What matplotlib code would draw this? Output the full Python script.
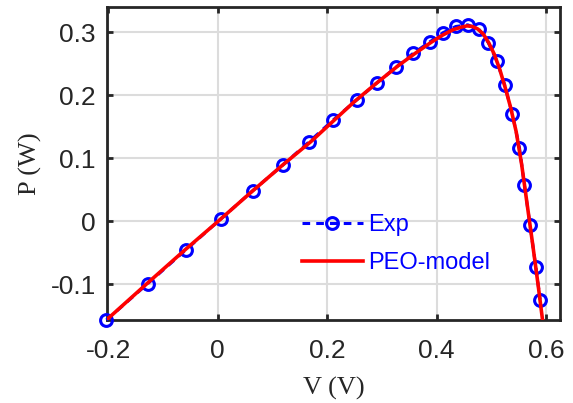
import matplotlib.pyplot as plt

# measured P-V points
v_exp = [-0.203, -0.128, -0.0585, 0.0055, 0.064, 0.119, 0.167, 0.211, 0.254,
         0.2915, 0.3257, 0.3573, 0.388, 0.412, 0.4347, 0.4566, 0.477, 0.494,
         0.5096, 0.524, 0.538, 0.551, 0.560, 0.5704, 0.5808, 0.5887]
p_exp = [-0.157, -0.0996, -0.0461, 0.0032, 0.0482, 0.089, 0.126, 0.1606, 0.1924,
         0.2199, 0.2443, 0.2666, 0.285, 0.2994, 0.309, 0.3116, 0.3047, 0.2835,
         0.2544, 0.2162, 0.170, 0.1166, 0.0572, -0.0064, -0.0726, -0.1245]

# PEO fitted curve
v_model = [-0.203, -0.13, -0.06, 0.0, 0.06, 0.12, 0.17, 0.21, 0.25, 0.29, 0.33,
           0.36, 0.39, 0.41, 0.43, 0.445, 0.455, 0.465, 0.475, 0.485, 0.495,
           0.505, 0.515, 0.525, 0.535, 0.545, 0.555, 0.565, 0.575, 0.585, 0.593]
p_model = [-0.157, -0.100, -0.046, -0.001, 0.045, 0.090, 0.126, 0.158, 0.190,
           0.219, 0.247, 0.266, 0.284, 0.295, 0.304, 0.308, 0.310, 0.309, 0.305,
           0.297, 0.283, 0.265, 0.241, 0.212, 0.180, 0.142, 0.090, 0.027,
           -0.036, -0.101, -0.156]

x_ticks = [-0.2, 0, 0.2, 0.4, 0.6]
y_ticks = [-0.1, 0, 0.1, 0.2, 0.3]
x_ticklabels = ["-0.2", "0", "0.2", "0.4", "0.6"]
y_ticklabels = ["-0.1", "0", "0.1", "0.2", "0.3"]

dark = "#262626"

fig = plt.figure(figsize=(5.73, 4.03), dpi=100)
ax = fig.add_axes([0.1867, 0.206, 0.7906, 0.7767])

ax.plot(v_exp, p_exp, linestyle=(0, (2.5, 2)), color="blue", lw=2.2,
        marker="o", markersize=8.5, markeredgewidth=2.2,
        markerfacecolor="none", label="Exp", zorder=3, clip_on=False)
ax.plot(v_model, p_model, color="red", lw=2.6, label="PEO-model", zorder=4)

ax.set_xlim(-0.202, 0.625)
ax.set_ylim(-0.157, 0.34)
ax.set_xticks(x_ticks)
ax.set_xticklabels(x_ticklabels)
ax.set_yticks(y_ticks)
ax.set_yticklabels(y_ticklabels)

ax.grid(True, color="#dcdcdc", lw=1.5)
ax.set_axisbelow(True)

for s in ax.spines.values():
    s.set_linewidth(2.0)
    s.set_color(dark)

ax.tick_params(direction="in", length=4.5, width=2, colors=dark,
               top=True, right=True, labelsize=19)
ax.tick_params(axis="x", pad=14)
ax.tick_params(axis="y", pad=8)
for lbl in ax.get_xticklabels() + ax.get_yticklabels():
    lbl.set_fontfamily("Liberation Sans")

ax.set_xlabel("V (V)", family="Liberation Serif", fontsize=19, color=dark, labelpad=10)
ax.set_ylabel("P (W)", family="Liberation Serif", fontsize=19, color=dark, labelpad=6)

leg = ax.legend(loc="upper left", bbox_to_anchor=(0.43, 0.337), frameon=False,
                borderpad=0, borderaxespad=0, handlelength=2.6,
                handletextpad=0.2, labelspacing=0.65,
                prop={"family": "Liberation Sans", "size": 17})
for t in leg.get_texts():
    t.set_color("blue")

fig.savefig("out.png", dpi=100)
